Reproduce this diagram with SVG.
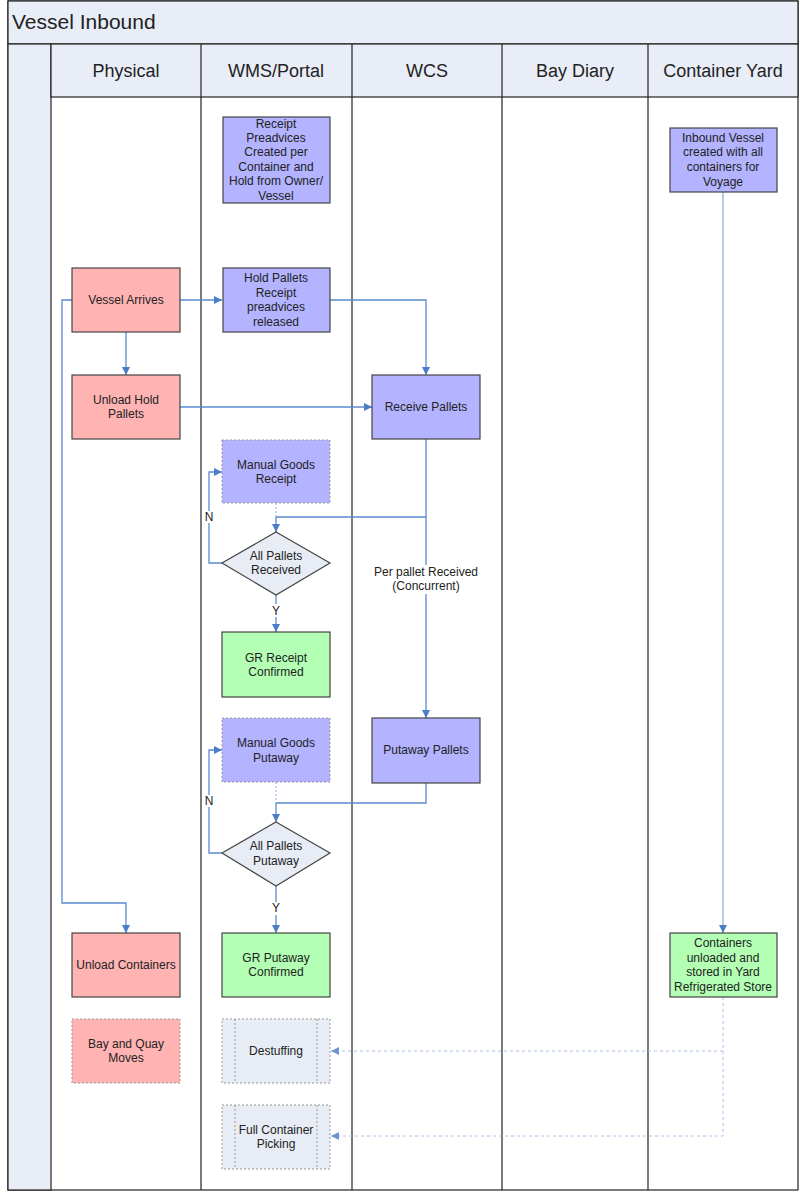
<svg xmlns="http://www.w3.org/2000/svg" width="800" height="1192" viewBox="0 0 800 1192">
<style>
text{font-family:"Liberation Sans",Arial,sans-serif;fill:#222;}
.t{font-size:12px;text-anchor:middle;}
.h{font-size:18px;text-anchor:middle;}
.lane{fill:none;stroke:#222;stroke-width:1.2;}
.p{fill:#b3b3ff;stroke:#444;stroke-width:1.2;}
.r{fill:#ffb3b3;stroke:#444;stroke-width:1.2;}
.g{fill:#b3ffb3;stroke:#444;stroke-width:1.2;}
.pd{fill:#b3b3ff;stroke:#999;stroke-width:1;stroke-dasharray:2,2;}
.rd{fill:#ffb3b3;stroke:#999;stroke-width:1;stroke-dasharray:2,2;}
.sd{fill:#e8ecf5;stroke:#999;stroke-width:1;stroke-dasharray:2,2;}
.dm{fill:#e8ecf5;stroke:#444;stroke-width:1.2;}
.c{fill:none;stroke:#5b8bd0;stroke-width:1.3;}
.cl{fill:none;stroke:#8fb0e2;stroke-width:1.3;}
.cd{fill:none;stroke:#a8c0e8;stroke-width:1;stroke-dasharray:3,3;}
.cdd{fill:none;stroke:#a8c0e8;stroke-width:1.3;stroke-dasharray:2,2;}
</style>
<defs>
<marker id="a" markerWidth="10" markerHeight="10" refX="9" refY="5" orient="auto" markerUnits="userSpaceOnUse"><path d="M1,1 L9,5 L1,9 Z" fill="#4a7cc8"/></marker>
<marker id="al" markerWidth="10" markerHeight="10" refX="9" refY="5" orient="auto" markerUnits="userSpaceOnUse"><path d="M1,1 L9,5 L1,9 Z" fill="#6d94d4"/></marker>
</defs>
<rect width="800" height="1192" fill="#fff"/>
<g id="frame">
<rect x="8" y="1" width="790" height="1189" fill="#fff" stroke="#222" stroke-width="1.2"/>
<rect x="8" y="1" width="790" height="43" fill="#e8edf7" stroke="#222" stroke-width="1.2"/>
<text x="12" y="29" style="font-size:21px">Vessel Inbound</text>
<rect x="8" y="44" width="43" height="1146" fill="#e8edf7" stroke="#222" stroke-width="1.2"/>
<rect x="51" y="44" width="747" height="53" fill="#e8edf7" stroke="#222" stroke-width="1.2"/>
<line class="lane" x1="201" y1="44" x2="201" y2="1190"/>
<line class="lane" x1="352" y1="44" x2="352" y2="1190"/>
<line class="lane" x1="502" y1="44" x2="502" y2="1190"/>
<line class="lane" x1="648" y1="44" x2="648" y2="1190"/>
<text class="h" x="126" y="77">Physical</text>
<text class="h" x="276" y="77">WMS/Portal</text>
<text class="h" x="427" y="77">WCS</text>
<text class="h" x="575" y="77">Bay Diary</text>
<text class="h" x="723" y="77">Container Yard</text>
</g>
<g id="connectors">
<path class="c" d="M180,300 H222" marker-end="url(#a)"/>
<path class="c" d="M330,300 H426 V375" marker-end="url(#a)"/>
<path class="c" d="M126,332 V375" marker-end="url(#a)"/>
<path class="c" d="M72,300 H62 V903 H126 V933" marker-end="url(#a)"/>
<path class="c" d="M180,407 H372" marker-end="url(#a)"/>
<path class="c" d="M426,439 V565 M426,594 V718" marker-end="url(#a)"/>
<text class="t" x="426" y="576">Per pallet Received</text>
<text class="t" x="426" y="590">(Concurrent)</text>
<path class="c" d="M426,517 H276 V532" marker-end="url(#a)"/>
<path class="cdd" d="M276,503 V517"/>
<path class="c" d="M222,563 H209 V523 M209,511 V472 H222" marker-end="url(#a)"/>
<text class="t" x="209" y="521">N</text>
<path class="c" d="M276,595 V604 M276,617 V632" marker-end="url(#a)"/>
<text class="t" x="276" y="615">Y</text>
<path class="c" d="M426,783 V803 H276 V822" marker-end="url(#a)"/>
<path class="cdd" d="M276,782 V803"/>
<path class="c" d="M222,853 H209 V807 M209,795 V750 H222" marker-end="url(#a)"/>
<text class="t" x="209" y="805">N</text>
<path class="c" d="M276,886 V902 M276,915 V933" marker-end="url(#a)"/>
<text class="t" x="276" y="912">Y</text>
<path class="cl" d="M723,192 V933" marker-end="url(#a)"/>
<path class="cd" d="M723,997 V1051 H331" marker-end="url(#al)"/>
<path class="cd" d="M723,1051 V1136 H331" marker-end="url(#al)"/>
</g>
<g id="n-receipt-preadvices">
<rect class="p" x="223" y="117" width="107" height="86"/>
<text class="t" x="276" y="128">Receipt</text>
<text class="t" x="276" y="142">Preadvices</text>
<text class="t" x="276" y="156">Created per</text>
<text class="t" x="276" y="171">Container and</text>
<text class="t" x="276" y="185">Hold from Owner/</text>
<text class="t" x="276" y="200">Vessel</text>
</g>
<g id="n-inbound-vessel">
<rect class="p" x="670" y="128" width="107" height="64"/>
<text class="t" x="723" y="142">Inbound Vessel</text>
<text class="t" x="723" y="156">created with all</text>
<text class="t" x="723" y="171">containers for</text>
<text class="t" x="723" y="186">Voyage</text>
</g>
<g id="n-vessel-arrives">
<rect class="r" x="72" y="268" width="108" height="64"/>
<text class="t" x="126" y="304">Vessel Arrives</text>
</g>
<g id="n-hold-pallets">
<rect class="p" x="223" y="268" width="107" height="64"/>
<text class="t" x="276" y="282">Hold Pallets</text>
<text class="t" x="276" y="297">Receipt</text>
<text class="t" x="276" y="311">preadvices</text>
<text class="t" x="276" y="326">released</text>
</g>
<g id="n-unload-hold">
<rect class="r" x="72" y="375" width="108" height="64"/>
<text class="t" x="126" y="404">Unload Hold</text>
<text class="t" x="126" y="418">Pallets</text>
</g>
<g id="n-receive-pallets">
<rect class="p" x="372" y="375" width="108" height="64"/>
<text class="t" x="426" y="411">Receive Pallets</text>
</g>
<g id="n-manual-receipt">
<rect class="pd" x="222" y="440" width="108" height="63"/>
<text class="t" x="276" y="469">Manual Goods</text>
<text class="t" x="276" y="483">Receipt</text>
</g>
<g id="n-all-received">
<polygon class="dm" points="276,532 330,563 276,595 222,563"/>
<text class="t" x="276" y="560">All Pallets</text>
<text class="t" x="276" y="574">Received</text>
</g>
<g id="n-gr-receipt">
<rect class="g" x="222" y="632" width="108" height="65"/>
<text class="t" x="276" y="662">GR Receipt</text>
<text class="t" x="276" y="676">Confirmed</text>
</g>
<g id="n-manual-putaway">
<rect class="pd" x="222" y="718" width="108" height="64"/>
<text class="t" x="276" y="747">Manual Goods</text>
<text class="t" x="276" y="762">Putaway</text>
</g>
<g id="n-putaway-pallets">
<rect class="p" x="372" y="718" width="108" height="65"/>
<text class="t" x="426" y="754">Putaway Pallets</text>
</g>
<g id="n-all-putaway">
<polygon class="dm" points="276,822 330,853 276,886 222,853"/>
<text class="t" x="276" y="850">All Pallets</text>
<text class="t" x="276" y="865">Putaway</text>
</g>
<g id="n-unload-containers">
<rect class="r" x="72" y="933" width="108" height="64"/>
<text class="t" x="126" y="969">Unload Containers</text>
</g>
<g id="n-gr-putaway">
<rect class="g" x="222" y="933" width="108" height="64"/>
<text class="t" x="276" y="962">GR Putaway</text>
<text class="t" x="276" y="976">Confirmed</text>
</g>
<g id="n-containers-unloaded">
<rect class="g" x="670" y="933" width="107" height="64"/>
<text class="t" x="723" y="947">Containers</text>
<text class="t" x="723" y="962">unloaded and</text>
<text class="t" x="723" y="976">stored in Yard</text>
<text class="t" x="723" y="991">Refrigerated Store</text>
</g>
<g id="n-bay-quay">
<rect class="rd" x="72" y="1019" width="108" height="64"/>
<text class="t" x="126" y="1048">Bay and Quay</text>
<text class="t" x="126" y="1062">Moves</text>
</g>
<g id="n-destuffing">
<rect class="sd" x="222" y="1019" width="108" height="64"/>
<line class="sd" x1="235" y1="1019" x2="235" y2="1083"/>
<line class="sd" x1="317" y1="1019" x2="317" y2="1083"/>
<text class="t" x="276" y="1055">Destuffing</text>
</g>
<g id="n-full-container">
<rect class="sd" x="222" y="1105" width="108" height="64"/>
<line class="sd" x1="235" y1="1105" x2="235" y2="1169"/>
<line class="sd" x1="317" y1="1105" x2="317" y2="1169"/>
<text class="t" x="276" y="1134">Full Container</text>
<text class="t" x="276" y="1148">Picking</text>
</g>
</svg>
